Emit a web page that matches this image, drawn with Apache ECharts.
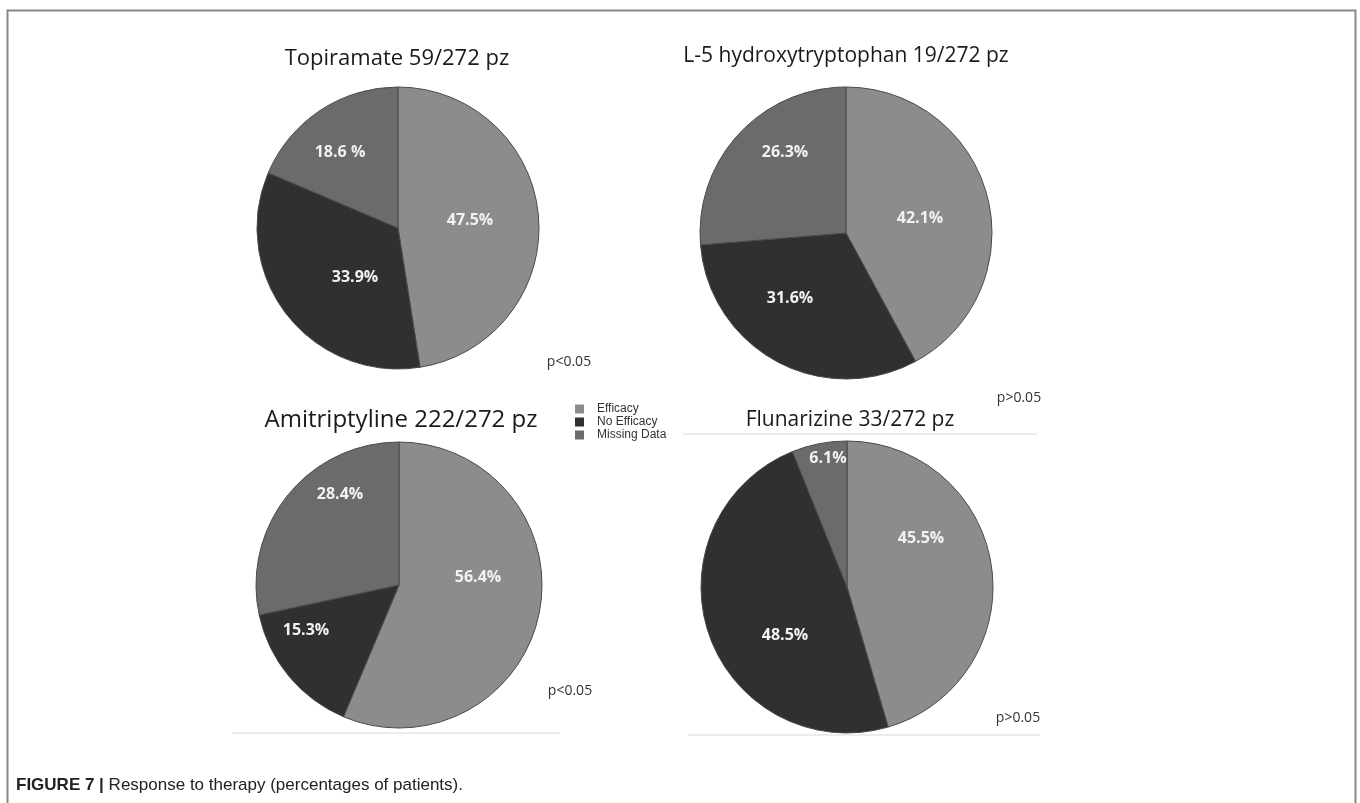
<!DOCTYPE html>
<html>
<head>
<meta charset="utf-8">
<title>Response to therapy</title>
<script src="https://cdn.jsdelivr.net/npm/echarts@6/dist/echarts.min.js"></script>
<style>
  html, body { margin: 0; padding: 0; background: #fff; }
  #chart { width: 1360px; height: 803px; }
</style>
</head>
<body>
<div id="chart"></div>
<script>
// categories (legend)
const statusNames = ['Efficacy', 'No Efficacy', 'Missing Data']
const statusColors = ['#8c8c8c', '#303030', '#6b6b6b']

// one pie per drug
const drugTitles = [
  'Topiramate 59/272 pz',
  'L-5 hydroxytryptophan 19/272 pz',
  'Amitriptyline 222/272 pz',
  'Flunarizine 33/272 pz'
]
const topiramateVals = [47.5, 33.9, 18.6]
const hydroxyVals = [42.1, 31.6, 26.3]
const amitriptylineVals = [56.4, 15.3, 28.4]
const flunarizineVals = [45.5, 48.5, 6.1]

// slice labels as printed (one has a space before %)
const topiramateLabels = ['47.5%', '33.9%', '18.6 %']
const hydroxyLabels = ['42.1%', '31.6%', '26.3%']
const amitriptylineLabels = ['56.4%', '15.3%', '28.4%']
const flunarizineLabels = ['45.5%', '48.5%', '6.1%']

const pValues = ['p<0.05', 'p>0.05', 'p<0.05', 'p>0.05']
const captionBold = 'FIGURE 7 |'
const captionText = 'Response to therapy (percentages of patients).'

const allVals = [topiramateVals, hydroxyVals, amitriptylineVals, flunarizineVals]
const allLabels = [topiramateLabels, hydroxyLabels, amitriptylineLabels, flunarizineLabels]

// layout of the four panels (lab = label offset from the pie centre, like the original's label placement)
const panels = [
  { cx: 398, cy: 228, r: 141, tx: 397, ty: 59, ts: 22, px: 569, py: 362,
    lab: [[72, -8], [-43, 49], [-58, -76]] },
  { cx: 846, cy: 233, r: 146, tx: 846, ty: 56, ts: 21, px: 1019, py: 398,
    lab: [[74, -15], [-56, 65], [-61, -81]] },
  { cx: 399, cy: 585, r: 143, tx: 401, ty: 420, ts: 24, px: 570, py: 691,
    lab: [[79, -8], [-93, 45], [-59, -91]] },
  { cx: 847, cy: 587, r: 146, tx: 850, ty: 420, ts: 21, px: 1018, py: 718,
    lab: [[74, -49], [-62, 48], [-19, -129]] }
]

const myEcharts = echarts.init(document.getElementById('chart'))

const series = panels.map((p, i) => ({
  type: 'pie',
  center: [p.cx, p.cy],
  radius: [0, p.r],
  startAngle: 90,
  clockwise: true,
  avoidLabelOverlap: false,
  silent: true,
  itemStyle: { borderColor: '#4a4a4a', borderWidth: 1 },
  label: {
    show: true,
    position: 'inside',
    color: '#f2f2f2',
    fontFamily: 'Open Sans',
    fontWeight: 'bold',
    fontSize: 16,
    formatter: (prm) => allLabels[i][prm.dataIndex]
  },
  labelLine: { show: false },
  labelLayout: (prm) => ({
    x: p.cx + p.lab[prm.dataIndex][0],
    y: p.cy + p.lab[prm.dataIndex][1],
    align: 'center',
    verticalAlign: 'middle'
  }),
  emphasis: { disabled: true },
  data: statusNames.map((n, k) => ({ name: n, value: allVals[i][k] }))
}))

const graphics = []
// frame
graphics.push({
  type: 'polyline',
  shape: { points: [[7.5, 803], [7.5, 10.5], [1355.5, 10.5], [1355.5, 803]] },
  style: { stroke: '#888', lineWidth: 2, fill: null }
})
// faint guide lines left over from the original figure
const faint = [[232, 733, 560, 733], [688, 735, 1040, 735], [683, 434, 1037, 434]]
faint.forEach((l) => {
  graphics.push({
    type: 'line',
    shape: { x1: l[0], y1: l[1], x2: l[2], y2: l[3] },
    style: { stroke: '#ececec', lineWidth: 2 }
  })
})
panels.forEach((p, i) => {
  graphics.push({
    type: 'text',
    x: p.tx,
    y: p.ty,
    style: {
      text: drugTitles[i],
      fontFamily: 'Open Sans',
      fontSize: p.ts,
      fill: '#1a1a1a',
      align: 'center',
      verticalAlign: 'middle'
    }
  })
  graphics.push({
    type: 'text',
    x: p.px,
    y: p.py,
    style: {
      text: pValues[i],
      fontFamily: 'Open Sans',
      fontSize: 14,
      fill: '#333',
      align: 'center',
      verticalAlign: 'middle'
    }
  })
})
// caption
graphics.push({
  type: 'text',
  x: 16,
  y: 785,
  style: {
    text: '{b|' + captionBold + '} ' + captionText,
    fontFamily: 'Liberation Sans',
    fontSize: 17,
    fill: '#222',
    verticalAlign: 'middle',
    rich: {
      b: { fontFamily: 'Liberation Sans', fontSize: 17, fontWeight: 'bold', fill: '#222' }
    }
  }
})

const option = {
  animation: false,
  color: statusColors,
  legend: {
    data: statusNames,
    orient: 'vertical',
    left: 570,
    top: 398,
    itemWidth: 9,
    itemHeight: 9,
    itemGap: 1,
    icon: 'rect',
    selectedMode: false,
    itemStyle: { borderWidth: 0 },
    textStyle: { fontFamily: 'Liberation Sans', fontSize: 12, color: '#333', padding: [0, 0, 0, 8] }
  },
  graphic: graphics,
  series: series
}
myEcharts.setOption(option)
</script>
</body>
</html>
